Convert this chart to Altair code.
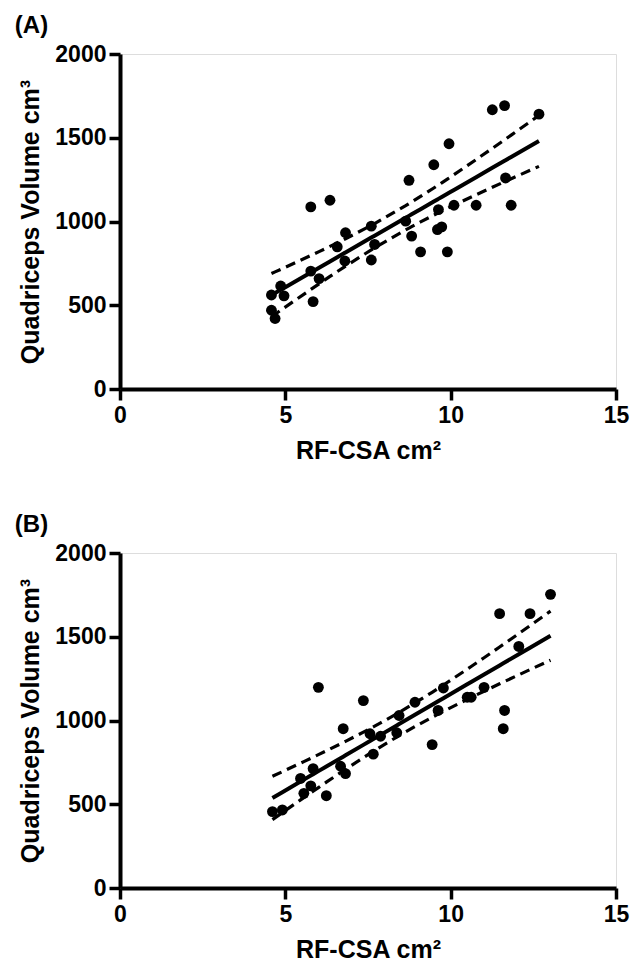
import numpy as np
import pandas as pd
import altair as alt

# ---- Panel A data (RF-CSA cm^2, Quadriceps volume cm^3) ----
xa = [11.26, 11.63, 12.67, 9.95, 9.49, 8.74, 5.77, 6.35, 11.66, 11.83, 10.77,
      10.10, 9.63, 9.73, 9.60, 8.64, 8.82, 9.09, 9.90, 7.60, 7.70, 7.60, 6.82,
      6.57, 6.80, 5.77, 6.02, 5.84, 4.86, 4.96, 4.58, 4.58, 4.69]
ya = [1667, 1692, 1641, 1464, 1339, 1246, 1087, 1127, 1260, 1097, 1097,
      1097, 1071, 968, 952, 1002, 913, 819, 819, 972, 863, 770, 933,
      849, 764, 704, 659, 522, 615, 556, 561, 470, 421]

# ---- Panel B data ----
xb = [13.02, 11.48, 12.40, 12.06, 6.00, 7.36, 9.78, 11.01, 10.62, 10.50,
      8.92, 11.63, 11.59, 9.62, 8.44, 8.37, 9.44, 6.75, 7.56, 7.88, 7.66,
      6.67, 6.82, 5.84, 5.46, 5.77, 5.56, 6.24, 4.91, 4.61]
yb = [1753, 1638, 1638, 1442, 1198, 1119, 1194, 1198, 1139, 1139,
      1109, 1060, 951, 1060, 1030, 927, 856, 951, 921, 906, 799,
      727, 683, 713, 654, 610, 565, 551, 466, 456]

# two-sided 95% t critical values for n-2 degrees of freedom
T_A = 2.0395   # df = 31
T_B = 2.0484   # df = 28

x_ticks = [0, 5, 10, 15]
y_ticks = [0, 500, 1000, 1500, 2000]

FONT = "Liberation Sans"


def fit_frames(xs, ys, tcrit):
    x = np.array(xs, dtype=float)
    y = np.array(ys, dtype=float)
    n = len(x)
    b, a = np.polyfit(x, y, 1)
    resid = y - (a + b * x)
    s = np.sqrt(np.sum(resid ** 2) / (n - 2))
    xm = x.mean()
    sxx = np.sum((x - xm) ** 2)
    xg = np.unique(x)
    yhat = a + b * xg
    se = s * np.sqrt(1.0 / n + (xg - xm) ** 2 / sxx)
    fit = pd.DataFrame({"x": xg, "y": yhat})
    band = pd.concat([
        pd.DataFrame({"x": xg, "y": yhat + tcrit * se, "k": "upper"}),
        pd.DataFrame({"x": xg, "y": yhat - tcrit * se, "k": "lower"}),
    ])
    return fit, band


AXIS_STYLE = dict(grid=False, format="d",
                  domainColor="black", domainWidth=4,
                  tickColor="black", tickWidth=3.5, tickSize=11,
                  labelFont=FONT, labelFontSize=23, labelFontWeight="bold",
                  labelColor="black", labelFlush=False,
                  titleFont=FONT, titleFontSize=25, titleFontWeight="bold",
                  titleColor="black")


def enc_x():
    return alt.X("x:Q", scale=alt.Scale(domain=[0, 15], nice=False),
                 axis=alt.Axis(values=x_ticks, title="RF-CSA cm²",
                               labelPadding=4, titlePadding=11, **AXIS_STYLE))


def enc_y():
    return alt.Y("y:Q", scale=alt.Scale(domain=[0, 2000], nice=False),
                 axis=alt.Axis(values=y_ticks, title="Quadriceps Volume cm³",
                               labelPadding=3, titlePadding=11, **AXIS_STYLE))


def panel(xs, ys, tcrit, label):
    pts = pd.DataFrame({"x": xs, "y": ys})
    fit, band = fit_frames(xs, ys, tcrit)
    points = alt.Chart(pts).mark_circle(size=118, color="black", opacity=1).encode(
        x=enc_x(), y=enc_y())
    line = alt.Chart(fit).mark_line(color="black", strokeWidth=4).encode(
        x=enc_x(), y=enc_y())
    dashed = alt.Chart(band).mark_line(color="black", strokeWidth=3.2,
                                       strokeDash=[10, 6]).encode(
        x=enc_x(), y=enc_y(), detail="k:N")
    return alt.layer(dashed, line, points).properties(
        width=496, height=335,
        title=alt.TitleParams(label, anchor="start", frame="bounds", font=FONT,
                              fontSize=24, fontWeight="bold", color="black",
                              offset=5, dx=-4))


chart = alt.vconcat(
    panel(xa, ya, T_A, "(A)"),
    panel(xb, yb, T_B, "(B)"),
    spacing=48,
).properties(
    padding={"left": 6, "top": 5, "right": 2, "bottom": 2}
).configure_view(stroke=None).configure(background="white")

chart.save("out.html", embed_options={"renderer": "svg", "actions": False})
